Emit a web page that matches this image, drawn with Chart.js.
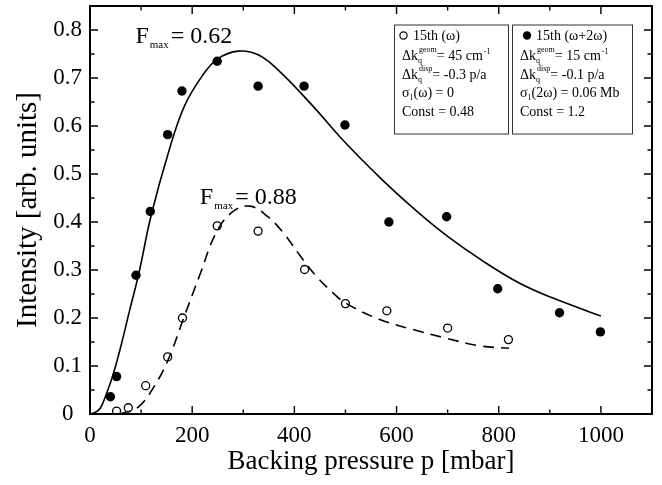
<!DOCTYPE html>
<html>
<head>
<meta charset="utf-8">
<script src="https://cdn.jsdelivr.net/npm/chart.js@4.4.0/dist/chart.umd.min.js"></script>
<style>
  html, body { margin: 0; padding: 0; background: #fff; }
</style>
</head>
<body>
<canvas id="chart" width="662" height="485"></canvas>
<script>
// 15th harmonic, fundamental only (open circles)
var pressureOmega = [52, 75, 109, 152, 181, 249, 329, 420, 500, 581, 700, 819];
var intensityOmega = [0.006, 0.013, 0.059, 0.119, 0.200, 0.392, 0.381, 0.301, 0.230, 0.215, 0.179, 0.155];

// 15th harmonic, two-colour field (filled circles)
var pressureTwoColor = [40, 52, 90, 118, 152, 180, 249, 329, 419, 499, 585, 698, 798, 919, 999];
var intensityTwoColor = [0.036, 0.078, 0.289, 0.422, 0.582, 0.673, 0.735, 0.683, 0.683, 0.602, 0.400, 0.411, 0.261, 0.211, 0.171];

// model curves
var fitTwoColorP = [0, 10, 20, 30, 46, 62, 78, 95, 120, 155, 185, 220, 250, 290, 330, 370, 435, 500, 570, 640, 700, 770, 840, 905, 1000];
var fitTwoColorI = [0, 0.003, 0.012, 0.036, 0.085, 0.148, 0.218, 0.29, 0.415, 0.55, 0.642, 0.705, 0.74, 0.756, 0.748, 0.715, 0.643, 0.565, 0.49, 0.422, 0.37, 0.318, 0.273, 0.242, 0.204];
var fitOmegaP = [59, 95, 127, 153, 180, 215, 248, 280, 313, 346, 378, 411, 443, 476, 502, 567, 632, 697, 762, 820];
var fitOmegaI = [0, 0.015, 0.06, 0.113, 0.19, 0.29, 0.38, 0.422, 0.433, 0.413, 0.378, 0.33, 0.287, 0.252, 0.23, 0.197, 0.176, 0.158, 0.142, 0.137];

var xTickValues = [0, 200, 400, 600, 800, 1000];
var yTickValues = [0, 0.1, 0.2, 0.3, 0.4, 0.5, 0.6, 0.7, 0.8];

var serif = "'Liberation Serif', 'Times New Roman', serif";

function toPoints(xs, ys) {
    var pts = [];
    for (var i = 0; i < xs.length; i++) {
        pts.push({ x: xs[i], y: ys[i] });
    }
    return pts;
}

// draws a run of text pieces: normal, sub, sup, or stacked sub+sup
function drawRich(ctx, x, y, parts, size) {
    var small = Math.round(size * 0.58);
    parts.forEach(function (p) {
        if (p.t) {
            ctx.font = size + 'px ' + serif;
            ctx.fillText(p.t, x, y);
            x += ctx.measureText(p.t).width;
        } else if (p.sub && p.sup) {
            ctx.font = small + 'px ' + serif;
            ctx.fillText(p.sub, x, y + 3);
            ctx.fillText(p.sup, x + 1, y - 8);
            x += Math.max(ctx.measureText(p.sub).width, ctx.measureText(p.sup).width + 1);
        } else if (p.sub) {
            ctx.font = small + 'px ' + serif;
            ctx.fillText(p.sub, x, y + 3);
            x += ctx.measureText(p.sub).width;
        } else if (p.sup) {
            ctx.font = small + 'px ' + serif;
            ctx.fillText(p.sup, x + 1, y - 6);
            x += ctx.measureText(p.sup).width + 1;
        }
    });
    return x;
}

function drawFmax(ctx, x, y, value) {
    ctx.fillStyle = '#000';
    ctx.textBaseline = 'alphabetic';
    ctx.textAlign = 'left';
    ctx.font = '24px ' + serif;
    ctx.fillText('F', x, y);
    x += ctx.measureText('F').width;
    ctx.font = '11px ' + serif;
    ctx.fillText('max', x + 1, y + 5);
    x += ctx.measureText('max').width + 3;
    ctx.font = '24px ' + serif;
    ctx.fillText('= ' + value, x, y);
}

var frameAndNotes = {
    id: 'frameAndNotes',
    afterDraw: function (chart) {
        var ctx = chart.ctx;
        var area = chart.chartArea;
        var sx = chart.scales.x;
        var sy = chart.scales.y;
        ctx.save();
        ctx.strokeStyle = '#000';
        ctx.fillStyle = '#000';

        // inward ticks on all four sides
        ctx.lineWidth = 1.4;
        ctx.beginPath();
        for (var k = 0; k <= 11; k++) {
            var x = sx.getPixelForValue(k * 100);
            var len = k % 2 === 0 ? 8 : 4.5;
            ctx.moveTo(x, area.bottom); ctx.lineTo(x, area.bottom - len);
            ctx.moveTo(x, area.top); ctx.lineTo(x, area.top + len);
        }
        for (var j = 0; j <= 17; j++) {
            var y = sy.getPixelForValue(j * 0.05);
            var ylen = j % 2 === 0 ? 8 : 4.5;
            ctx.moveTo(area.left, y); ctx.lineTo(area.left + ylen, y);
            ctx.moveTo(area.right, y); ctx.lineTo(area.right - ylen, y);
        }
        ctx.stroke();

        // frame
        ctx.lineWidth = 2;
        ctx.strokeRect(area.left, area.top, area.right - area.left, area.bottom - area.top);

        // F_max labels
        drawFmax(ctx, sx.getPixelForValue(89), sy.getPixelForValue(0.772), '0.62');
        drawFmax(ctx, sx.getPixelForValue(215), sy.getPixelForValue(0.4375), '0.88');

        // parameter boxes
        var top = area.top + 19;
        var h = 109;
        ctx.lineWidth = 1;
        ctx.strokeStyle = '#333';
        ctx.strokeRect(area.left + 304.5, top, 114, h);
        ctx.strokeRect(area.left + 422.5, top, 120, h);

        ctx.fillStyle = '#000';
        ctx.strokeStyle = '#000';
        var fs = 14;
        var bl = [top + 15, top + 35, top + 54, top + 72, top + 91];

        // box for fundamental only
        var bx = area.left + 313;
        ctx.lineWidth = 1.2;
        ctx.beginPath();
        ctx.arc(bx + 0.5, bl[0] - 4.5, 3.6, 0, Math.PI * 2);
        ctx.stroke();
        drawRich(ctx, bx + 10, bl[0], [{ t: '15th (\u03c9)' }], fs);
        drawRich(ctx, bx - 1, bl[1], [{ t: '\u0394k' }, { sub: 'q', sup: 'geom' }, { t: '= 45 cm' }, { sup: '-1' }], fs);
        drawRich(ctx, bx - 1, bl[2], [{ t: '\u0394k' }, { sub: 'q', sup: 'disp' }, { t: '= -0.3 p/a' }], fs);
        drawRich(ctx, bx - 1, bl[3], [{ t: '\u03c3' }, { sub: '1' }, { t: '(\u03c9) = 0' }], fs);
        drawRich(ctx, bx - 1, bl[4], [{ t: 'Const = 0.48' }], fs);

        // box for two-colour field
        var bx2 = area.left + 437;
        ctx.beginPath();
        ctx.arc(bx2, bl[0] - 4.5, 4.2, 0, Math.PI * 2);
        ctx.fill();
        drawRich(ctx, bx2 + 9, bl[0], [{ t: '15th (\u03c9+2\u03c9)' }], fs);
        drawRich(ctx, bx2 - 7, bl[1], [{ t: '\u0394k' }, { sub: 'q', sup: 'geom' }, { t: '= 15 cm' }, { sup: '-1' }], fs);
        drawRich(ctx, bx2 - 7, bl[2], [{ t: '\u0394k' }, { sub: 'q', sup: 'disp' }, { t: '= -0.1 p/a' }], fs);
        drawRich(ctx, bx2 - 7, bl[3], [{ t: '\u03c3' }, { sub: '1' }, { t: '(2\u03c9) = 0.06 Mb' }], fs);
        drawRich(ctx, bx2 - 7, bl[4], [{ t: 'Const = 1.2' }], fs);

        ctx.restore();
    }
};

function noEdgePadding(scale) {
    scale.paddingTop = 0;
    scale.paddingBottom = 0;
    scale.paddingLeft = 0;
    scale.paddingRight = 0;
}

var ctx = document.getElementById('chart').getContext('2d');
var chart = new Chart(ctx, {
    type: 'scatter',
    data: {
        datasets: [{
            label: '15th (\u03c9+2\u03c9)',
            data: toPoints(pressureTwoColor, intensityTwoColor),
            pointRadius: 4.7,
            pointBackgroundColor: '#000',
            pointBorderColor: '#000',
            pointBorderWidth: 0,
            showLine: false
        }, {
            label: '15th (\u03c9)',
            data: toPoints(pressureOmega, intensityOmega),
            pointRadius: 4,
            pointBackgroundColor: 'rgba(255,255,255,0)',
            pointBorderColor: '#000',
            pointBorderWidth: 1.3,
            showLine: false
        }, {
            label: 'fit \u03c9+2\u03c9',
            data: toPoints(fitTwoColorP, fitTwoColorI),
            showLine: true,
            borderColor: '#000',
            borderWidth: 1.6,
            pointRadius: 0,
            tension: 0.4
        }, {
            label: 'fit \u03c9',
            data: toPoints(fitOmegaP, fitOmegaI),
            showLine: true,
            borderColor: '#000',
            borderWidth: 1.6,
            borderDash: [11, 7],
            pointRadius: 0,
            tension: 0.4
        }]
    },
    options: {
        responsive: false,
        animation: false,
        devicePixelRatio: 1,
        layout: { padding: { top: 6, right: 10, left: 0, bottom: 0 } },
        plugins: {
            legend: { display: false },
            tooltip: { enabled: false }
        },
        scales: {
            x: {
                type: 'linear',
                min: 0,
                max: 1100,
                afterBuildTicks: function (scale) {
                    scale.ticks = xTickValues.map(function (v) { return { value: v }; });
                },
                afterFit: function (scale) { scale.height = 71; noEdgePadding(scale); },
                grid: { display: false, drawTicks: false },
                border: { display: false },
                ticks: {
                    padding: 8,
                    color: '#000',
                    font: { family: serif, size: 23 },
                    maxRotation: 0,
                    callback: function (v) { return String(v); }
                },
                title: {
                    display: true,
                    text: 'Backing pressure p [mbar]',
                    color: '#000',
                    font: { family: serif, size: 27 },
                    padding: { top: 0, bottom: 7 }
                }
            },
            y: {
                type: 'linear',
                min: 0,
                max: 0.85,
                afterBuildTicks: function (scale) {
                    scale.ticks = yTickValues.map(function (v) { return { value: v }; });
                },
                afterFit: function (scale) { scale.width = 90; noEdgePadding(scale); },
                grid: { display: false, drawTicks: false },
                border: { display: false },
                ticks: {
                    padding: 8,
                    crossAlign: 'center',
                    color: '#000',
                    font: { family: serif, size: 23 },
                    callback: function (v) { return v === 0 ? '0' : v.toFixed(1); }
                },
                title: {
                    display: true,
                    text: 'Intensity [arb. units]',
                    color: '#000',
                    font: { family: serif, size: 29 },
                    padding: { top: 11, bottom: 0 }
                }
            }
        }
    },
    plugins: [frameAndNotes]
});
</script>
</body>
</html>
